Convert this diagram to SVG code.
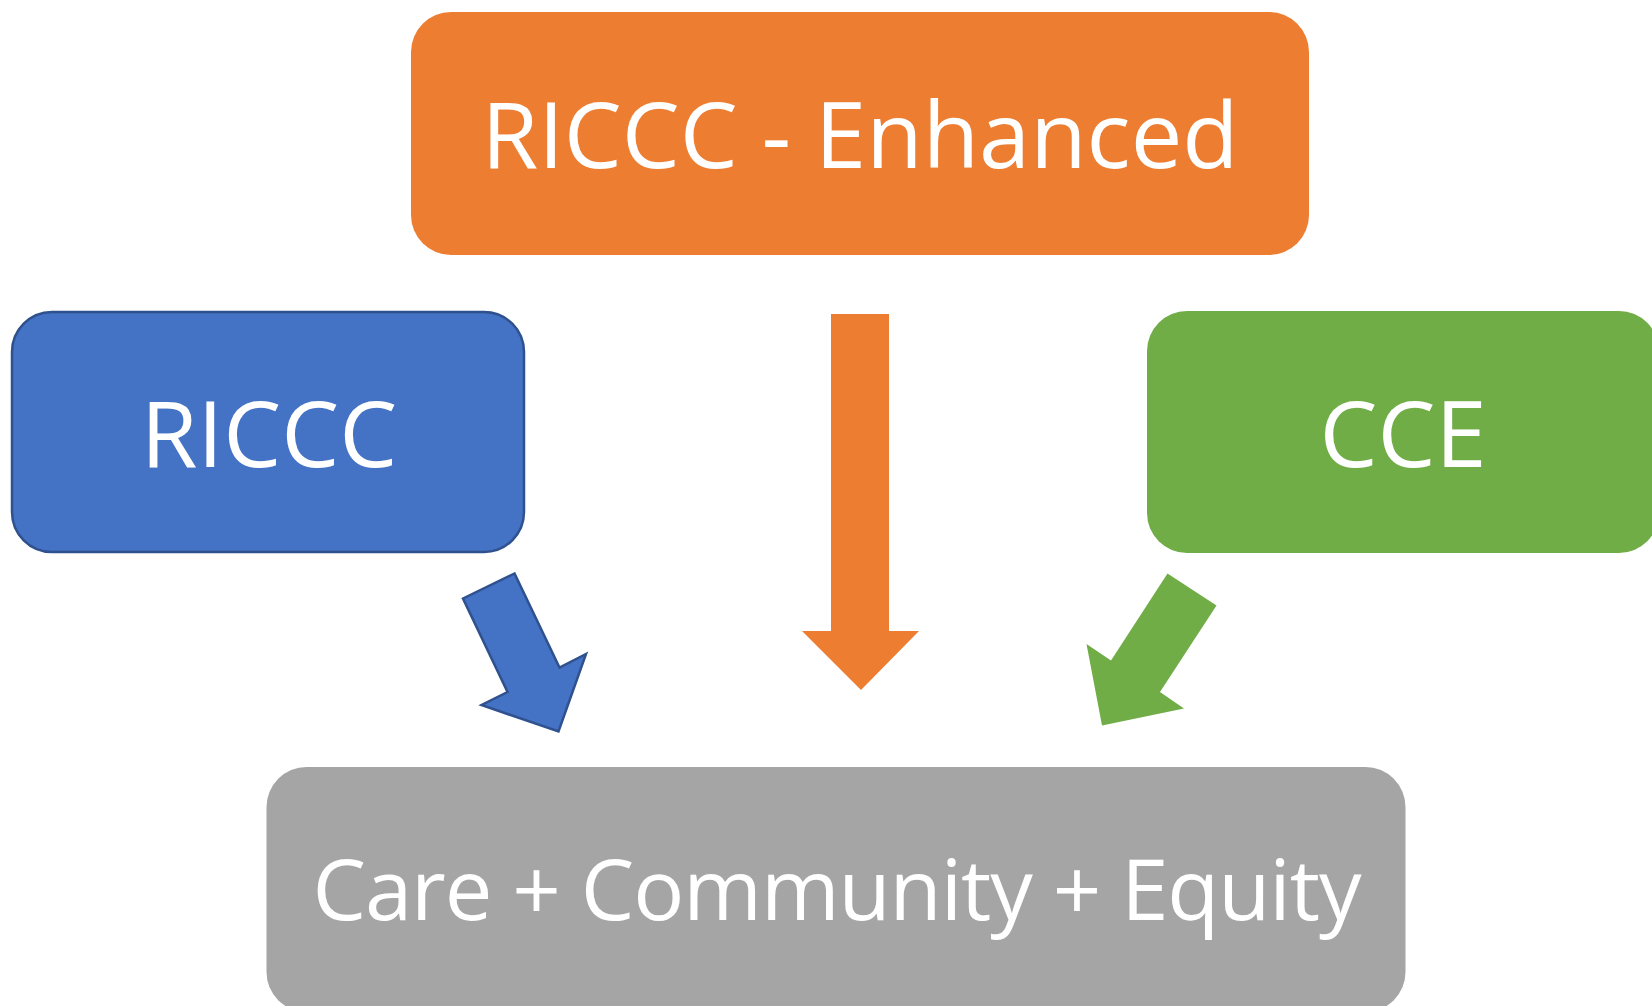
<svg xmlns="http://www.w3.org/2000/svg" width="1652" height="1006" viewBox="0 0 1652 1006">
<style>
.lbl{font-family:"Open Sans","Noto Sans",sans-serif;fill:#FFFFFF;text-anchor:middle;font-size:92px}
.lbl.sm{font-size:85px}
</style>
<rect width="1652" height="1006" fill="#FFFFFF"/>
<g id="node-enhanced">
<rect x="411" y="12" width="898" height="243" rx="40" ry="40" fill="#ED7D31"/>
<text class="lbl" x="860" y="168">RICCC - Enhanced</text>
</g>
<g id="node-riccc">
<rect x="12" y="312" width="512" height="240" rx="40" ry="40" fill="#4472C4" stroke="#2F528F" stroke-width="2.5"/>
<text class="lbl" x="269" y="467">RICCC</text>
</g>
<g id="node-cce">
<rect x="1147" y="311" width="512" height="242" rx="40" ry="40" fill="#70AD47"/>
<text class="lbl" x="1403" y="467">CCE</text>
</g>
<g id="node-result">
<rect x="266.5" y="767" width="1139" height="245" rx="40" ry="40" fill="#A5A5A5"/>
<text class="lbl sm" x="837" y="920" textLength="1049" lengthAdjust="spacing">Care + Community + Equity</text>
</g>
<g id="connectors">
<polygon points="831,314 889,314 889,631 919,631 861,690 802,631 831,631" fill="#ED7D31"/>
<polygon points="514.5,573.5 463,598.5 507.5,692 481.5,705 558.5,731.5 586,654 559.5,667.5" fill="#4472C4" stroke="#2F528F" stroke-width="2.5" stroke-linejoin="miter"/>
<polygon points="1167.5,573.5 1216.5,605.5 1160,692 1184,708.5 1102,725.5 1086.5,644 1111,660.5" fill="#70AD47"/>
</g>
</svg>
